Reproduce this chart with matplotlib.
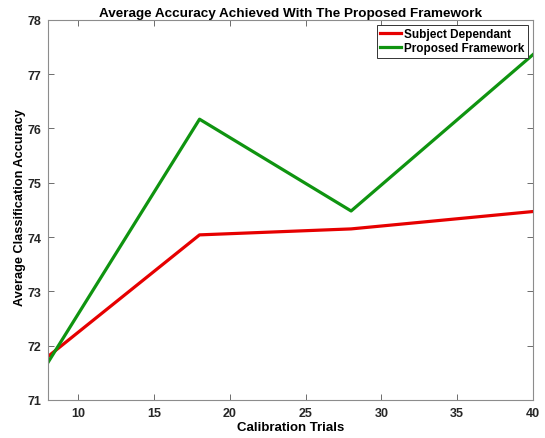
import matplotlib.pyplot as plt

trials = [8, 18, 28, 40]
subject_dependant = [71.80, 74.04, 74.15, 74.47]
proposed_framework = [71.69, 76.17, 74.48, 77.36]

plt.rcParams['font.family'] = ['Liberation Sans', 'DejaVu Sans']
plt.rcParams['font.weight'] = 'bold'

fig = plt.figure(figsize=(5.45, 4.39), dpi=100)
ax = fig.add_axes([0.088, 0.0866, 0.890, 0.866])

ax.plot(trials, subject_dependant, color="#e60000", linewidth=2.3, label="Subject Dependant")
ax.plot(trials, proposed_framework, color="#0f9410", linewidth=2.3, label="Proposed Framework")

ax.set_xlim(8, 40)
ax.set_ylim(71, 78)
ax.set_xticks([10, 15, 20, 25, 30, 35, 40])
ax.set_yticks(range(71, 79))
ax.tick_params(direction="in", top=True, right=True, length=4, width=0.6, pad=5,
               colors="#555555", labelcolor="#262626", labelsize=9)
for side in ax.spines.values():
    side.set_color("#8c8c8c")
    side.set_linewidth(0.8)

ax.set_title("Average Accuracy Achieved With The Proposed Framework",
             fontsize=9.7, fontweight="bold", pad=3)
ax.set_xlabel("Calibration Trials", fontsize=9.5, fontweight="bold")
ax.xaxis.set_label_coords(0.5, -0.055)
ax.set_ylabel("Average Classification Accuracy", fontsize=9.2, fontweight="bold")
ax.yaxis.set_label_coords(-0.045, 0.51)

leg = ax.legend(loc="upper right", fontsize=8.5, fancybox=False, framealpha=1,
                edgecolor="#333333", handlelength=1.8, handletextpad=0.25,
                borderpad=0.3, labelspacing=0.2, borderaxespad=0.4)
leg.get_frame().set_linewidth(0.7)
for t in leg.get_texts():
    t.set_fontweight("bold")

fig.savefig("out.png", dpi=100)
